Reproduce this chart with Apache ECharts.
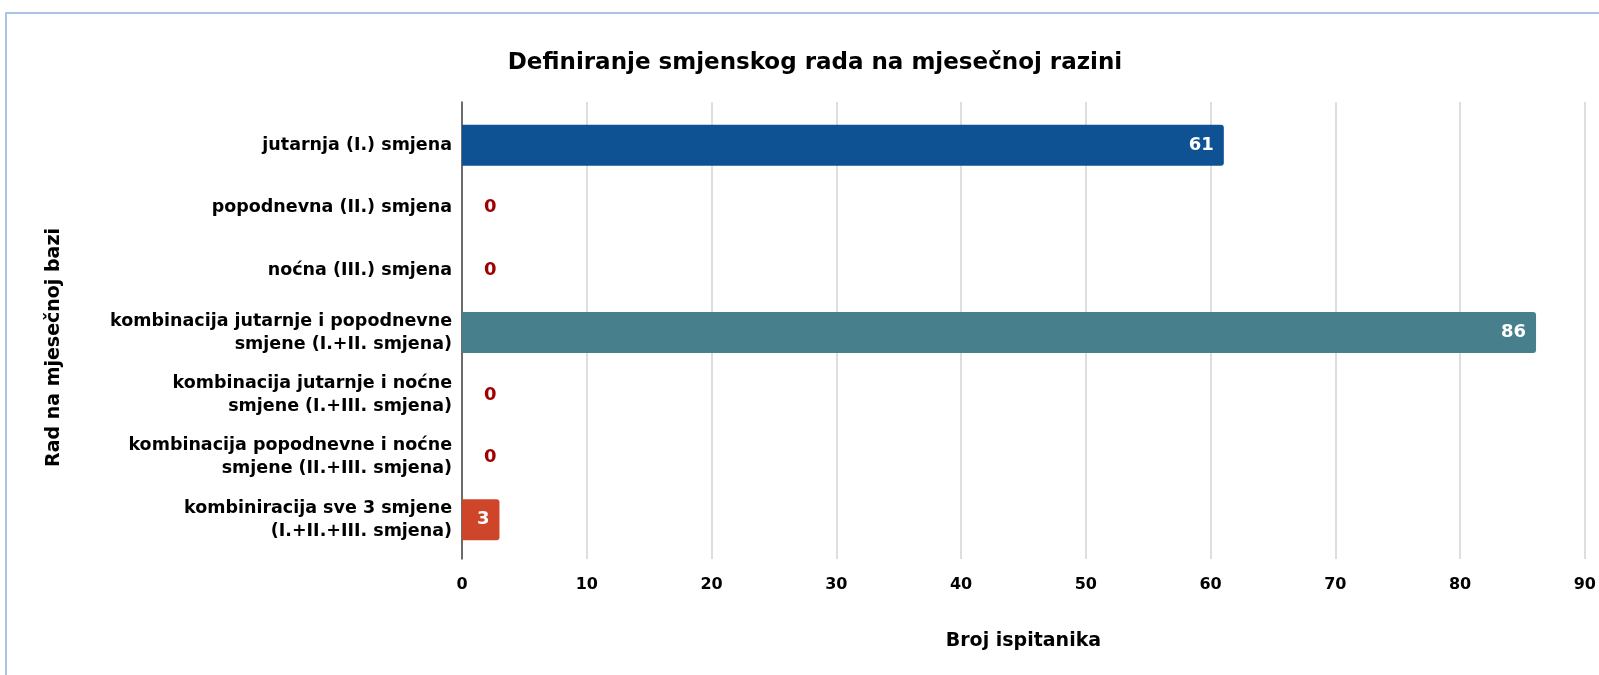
<!DOCTYPE html>
<html>
<head>
<meta charset="utf-8">
<title>Definiranje smjenskog rada</title>
<script src="https://cdn.jsdelivr.net/npm/echarts@6/dist/echarts.min.js"></script>
<style>
  html, body { margin: 0; padding: 0; background: #fff; overflow: hidden; width: 1599px; height: 675px; }
  #frame {
    position: absolute; left: 5px; top: 12px; width: 1620px; height: 700px;
    border-top: 2px solid #a9c3e6; border-left: 2px solid #a9c3e6;
  }
  #chart { position: absolute; left: 0; top: 0; width: 1599px; height: 675px; }
</style>
</head>
<body>
<div id="frame"></div>
<div id="chart"></div>
<script>
// kategorije (y os)
const categories = [
  'jutarnja (I.) smjena',
  'popodnevna (II.) smjena',
  'noćna (III.) smjena',
  'kombinacija jutarnje i popodnevne\nsmjene (I.+II. smjena)',
  'kombinacija jutarnje i noćne\nsmjene (I.+III. smjena)',
  'kombinacija popodnevne i noćne\nsmjene (II.+III. smjena)',
  'kombiniracija sve 3 smjene\n(I.+II.+III. smjena)'
]
// broj ispitanika
const values = [61, 0, 0, 86, 0, 0, 3]
// boje stupaca
const barColors = ['#0f5294', '#8a1c1c', '#a00000', '#47808c', '#a00000', '#a00000', '#cf4529']
const xMin = 0
const xMax = 90
const xStep = 10

const FONT = 'DejaVu Sans'
const chart = echarts.init(document.getElementById('chart'))

const seriesData = values.map((v, i) => ({
  value: v,
  itemStyle: { color: barColors[i] },
  label: v === 0
    ? { position: 'right', distance: 22, color: '#a00000' }
    : { position: 'insideRight', distance: 10, color: '#ffffff' }
}))

const option = {
  animation: false,
  title: {
    text: 'Definiranje smjenskog rada na mjesečnoj razini',
    left: 810,
    textAlign: 'center',
    top: 47,
    textStyle: { fontFamily: FONT, fontWeight: 'bold', fontSize: 23, color: '#000' }
  },
  grid: [
    // okvir za os i mrežu
    { left: 462, right: 13, top: 102, bottom: 116 },
    // stupci
    { left: 462, right: 13, top: 114, bottom: 124 }
  ],
  xAxis: [
    {
      gridIndex: 0,
      type: 'value',
      min: xMin,
      max: xMax,
      interval: xStep,
      name: 'Broj ispitanika',
      nameLocation: 'middle',
      nameGap: 73,
      nameTextStyle: { fontFamily: FONT, fontWeight: 'bold', fontSize: 19, color: '#000' },
      axisLine: { show: false },
      axisTick: { show: false },
      axisLabel: { fontFamily: FONT, fontWeight: 'bold', fontSize: 16, color: '#000', margin: 18 },
      splitLine: { show: true, lineStyle: { color: '#d3d3d3', width: 1.5 } }
    },
    {
      gridIndex: 1,
      type: 'value',
      min: xMin,
      max: xMax,
      show: false
    }
  ],
  yAxis: [
    {
      gridIndex: 0,
      type: 'value',
      name: 'Rad na mjesečnoj bazi',
      nameLocation: 'middle',
      nameRotate: 90,
      nameGap: 398,
      nameTextStyle: {
        fontFamily: FONT, fontWeight: 'bold', fontSize: 19, color: '#000',
        padding: [0, 34, 0, 0]
      },
      axisLine: { show: true, lineStyle: { color: '#444', width: 1.5 } },
      axisTick: { show: false },
      axisLabel: { show: false },
      splitLine: { show: false }
    },
    {
      gridIndex: 1,
      type: 'category',
      inverse: true,
      data: categories,
      axisLine: { show: false },
      axisTick: { show: false },
      axisLabel: {
        fontFamily: FONT, fontWeight: 'bold', fontSize: 17.5, color: '#000',
        margin: 10, lineHeight: 23, align: 'right'
      }
    }
  ],
  series: [
    {
      type: 'bar',
      xAxisIndex: 1,
      yAxisIndex: 1,
      barWidth: 41,
      data: seriesData,
      itemStyle: { borderRadius: [0, 3, 3, 0] },
      label: {
        show: true,
        fontFamily: FONT,
        fontWeight: 'bold',
        fontSize: 18
      }
    }
  ]
}
chart.setOption(option)
</script>
</body>
</html>
